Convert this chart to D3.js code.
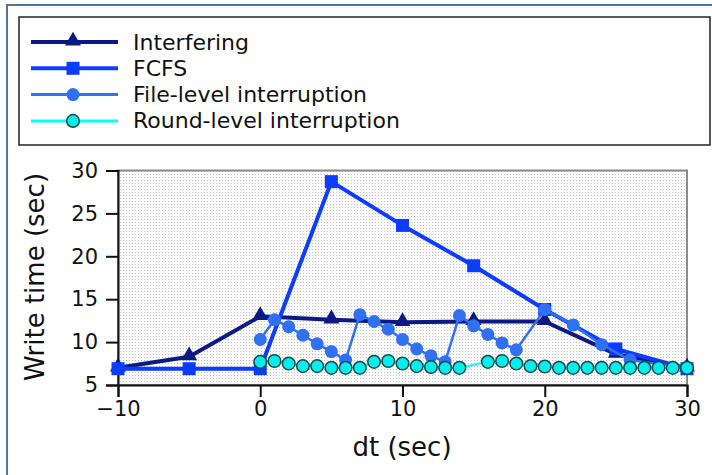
<html>
<meta charset="UTF-8">
<head>
<title>write time</title>
<style>
  body { margin: 0; background: #fff; }
  text { font-family: "DejaVu Sans", sans-serif; fill: #111; }
</style>
</head>
<body>
<script src="https://d3js.org/d3.v7.min.js"></script>
<script>
// data
const dtCoarse = [-10, -5, 0, 5, 10, 15, 20, 25, 30]
const interfering = [7.0, 8.3, 13.0, 12.6, 12.3, 12.4, 12.4, 8.6, 7.0]
const fcfs = [6.9, 6.9, 6.9, 28.7, 23.6, 18.9, 13.8, 9.2, 6.9]

const fileDt = [0, 1, 2, 3, 4, 5, 6, 7, 8, 9, 10, 11, 12, 13, 14, 15, 16, 17, 18, 20, 22, 24, 26, 30]
const fileLevel = [10.3, 12.6, 11.8, 10.8, 9.8, 8.9, 7.9, 13.2, 12.4, 11.5, 10.3, 9.2, 8.4, 7.7,
                   13.1, 11.9, 10.9, 9.9, 9.1, 13.8, 12.0, 9.7, 7.9, 7.0]

const roundDt = [0, 1, 2, 3, 4, 5, 6, 7, 8, 9, 10, 11, 12, 13, 14,
                 16, 17, 18, 19, 20, 21, 22, 23, 24, 25, 26, 27, 28, 29, 30]
const roundLevel = [7.7, 7.8, 7.5, 7.2, 7.2, 7.0, 7.0, 7.0, 7.7, 7.8, 7.5, 7.2, 7.1, 7.0, 7.0,
                    7.7, 7.8, 7.5, 7.2, 7.15, 7.0, 7.0, 7.0, 7.0, 7.0, 7.0, 7.0, 7.0, 7.0, 7.0]

const xTicks = [-10, 0, 10, 20, 30]
const yTicks = [5, 10, 15, 20, 25, 30]

const series = [
  {name: "Interfering", xs: dtCoarse, ys: interfering, color: "#0a1a82", width: 4, marker: "triangle"},
  {name: "FCFS", xs: dtCoarse, ys: fcfs, color: "#0b3cff", width: 4, marker: "square"},
  {name: "File-level interruption", xs: fileDt, ys: fileLevel, color: "#3070f2", width: 2.5, marker: "circle"},
  {name: "Round-level interruption", xs: roundDt, ys: roundLevel, color: "#00ffff", width: 2, marker: "ring"}
]

const svg = d3.select("body").append("svg")
  .attr("width", 712).attr("height", 475)

// outer frame
svg.append("rect")
  .attr("x", 7).attr("y", 5).attr("width", 740).attr("height", 500)
  .attr("fill", "none").attr("stroke", "#4b74a6").attr("stroke-width", 2)

const defs = svg.append("defs")
const pat = defs.append("pattern")
  .attr("id", "stipple").attr("patternUnits", "userSpaceOnUse")
  .attr("width", 3).attr("height", 3)
pat.append("rect").attr("width", 3).attr("height", 3).attr("fill", "#fbfbfb")
pat.append("rect").attr("width", 1).attr("height", 1).attr("fill", "#c4c4c4")

const x = d3.scaleLinear().domain([-10, 30]).range([118, 687])
const y = d3.scaleLinear().domain([5, 30]).range([385, 170.5])

// plot background + gray frame
svg.append("rect")
  .attr("x", x(-10)).attr("y", y(30))
  .attr("width", x(30) - x(-10)).attr("height", y(5) - y(30))
  .attr("fill", "url(#stipple)").attr("stroke", "#8a8a8a").attr("stroke-width", 2)

const xAxis = svg.append("g")
  .attr("transform", "translate(0," + y(5) + ")")
  .call(d3.axisBottom(x).tickValues(xTicks).tickSize(12).tickPadding(4)
    .tickFormat(d => d < 0 ? "\u2212" + Math.abs(d) : d))
const yAxis = svg.append("g")
  .attr("transform", "translate(" + x(-10) + ",0)")
  .call(d3.axisLeft(y).tickValues(yTicks).tickSize(12).tickPadding(8))

for (const ax of [xAxis, yAxis]) {
  ax.select(".domain").attr("stroke", "#111").attr("stroke-width", 2)
  ax.selectAll(".tick line").attr("stroke", "#111").attr("stroke-width", 2)
  ax.selectAll(".tick text").style("font-family", "DejaVu Sans").style("font-size", "21px").attr("fill", "#111")
}

svg.append("text")
  .attr("x", 402).attr("y", 456)
  .attr("text-anchor", "middle").style("font-size", "26px")
  .text("dt (sec)")

svg.append("text")
  .attr("transform", "translate(44,277) rotate(-90)")
  .attr("text-anchor", "middle").style("font-size", "26px")
  .text("Write time (sec)")

function drawMarker(g, s, cx, cy) {
  if (s.marker === "triangle") {
    g.append("path")
      .attr("d", d3.symbol(d3.symbolTriangle, 110)())
      .attr("transform", "translate(" + cx + "," + (cy - 1) + ")")
      .attr("fill", s.color)
  } else if (s.marker === "square") {
    g.append("rect")
      .attr("x", cx - 6.5).attr("y", cy - 6.5).attr("width", 13).attr("height", 13)
      .attr("fill", s.color)
  } else if (s.marker === "circle") {
    g.append("circle").attr("cx", cx).attr("cy", cy).attr("r", 6.5).attr("fill", s.color)
  } else {
    g.append("circle").attr("cx", cx).attr("cy", cy).attr("r", 6.3)
      .attr("fill", "#00f0f0").attr("stroke", "#1c4a4a").attr("stroke-width", 1.5)
  }
}

const line = d3.line().x(d => x(d[0])).y(d => y(d[1]))

series.forEach(s => {
  const pts = s.xs.map((v, i) => [v, s.ys[i]])
  const g = svg.append("g")
  g.append("path")
    .attr("d", line(pts))
    .attr("fill", "none").attr("stroke", s.color).attr("stroke-width", s.width)
    .attr("stroke-linejoin", "round")
  pts.forEach(p => drawMarker(g, s, x(p[0]), y(p[1])))
})

// legend
const legend = svg.append("g")
legend.append("rect")
  .attr("x", 19).attr("y", 17).attr("width", 691).attr("height", 128)
  .attr("fill", "#fff").attr("stroke", "#222").attr("stroke-width", 1.5)

series.forEach((s, i) => {
  const ry = 42 + i * 26.3
  legend.append("line")
    .attr("x1", 31).attr("x2", 118).attr("y1", ry).attr("y2", ry)
    .attr("stroke", s.color).attr("stroke-width", Math.max(s.width, 3))
  drawMarker(legend, s, 73, ry)
  legend.append("text")
    .attr("x", 133).attr("y", ry + 7.5)
    .style("font-size", "22px")
    .text(s.name)
})
</script>
</body>
</html>
